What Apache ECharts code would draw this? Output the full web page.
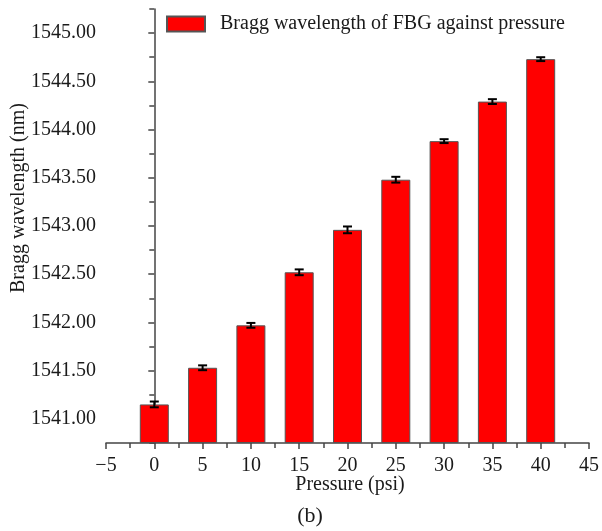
<!DOCTYPE html>
<html>
<head>
<meta charset="utf-8">
<script src="https://cdn.jsdelivr.net/npm/echarts@6/dist/echarts.min.js"></script>
<style>html,body{margin:0;padding:0;background:#fff;}#c{width:602px;height:531px;}</style>
</head>
<body>
<div id="c"></div>
<script>
var pressures = [0, 5, 10, 15, 20, 25, 30, 35, 40];
var wavelengths = [1541.15, 1541.53, 1541.97, 1542.52, 1542.96, 1543.48, 1543.88, 1544.29, 1544.73];
var errors = [0.03, 0.025, 0.025, 0.03, 0.035, 0.03, 0.02, 0.025, 0.02];
var xTicks = [-5, 0, 5, 10, 15, 20, 25, 30, 35, 40, 45];
var xMinorTicks = [-2.5, 2.5, 7.5, 12.5, 17.5, 22.5, 27.5, 32.5, 37.5, 42.5];
var yTicks = [1541.0, 1541.5, 1542.0, 1542.5, 1543.0, 1543.5, 1544.0, 1544.5, 1545.0];
var yMinorTicks = [1540.75, 1541.25, 1541.75, 1542.25, 1542.75, 1543.25, 1543.75, 1544.25, 1544.75, 1545.25];
var seriesName = 'Bragg wavelength of FBG against pressure';
var xTitle = 'Pressure (psi)';
var yTitle = 'Bragg wavelength (nm)';
var panelLabel = '(b)';

var font = '"Liberation Serif", "Times New Roman", serif';
var txt = '#1a1a1a';
var axisColor = '#444';
var chart = echarts.init(document.getElementById('c'));
var barData = pressures.map(function (p, i) { return [p, wavelengths[i]]; });
var errData = pressures.map(function (p, i) { return [p, wavelengths[i] - errors[i], wavelengths[i] + errors[i]]; });

var xMin = -5, xMax = 45, yMin = 1540.75, yMax = 1545.25;

chart.setOption({
  animation: false,
  backgroundColor: '#fff',
  grid: { left: 106, right: 9, top: 9, bottom: 88, containLabel: false },
  legend: {
    data: [{ name: seriesName, icon: 'rect' }],
    left: 161, top: 9, itemWidth: 38, itemHeight: 15, itemGap: 10,
    textStyle: { fontFamily: font, fontSize: 20, color: txt, padding: [0, 0, 0, 10] }
  },
  xAxis: [{
    type: 'value', min: xMin, max: xMax, interval: 5,
    axisLine: { show: true, lineStyle: { color: axisColor, width: 1.5 } },
    axisTick: { show: true, inside: false, length: 6, customValues: xTicks, lineStyle: { color: axisColor, width: 1.5 } },
    axisLabel: { fontFamily: font, fontSize: 20, color: txt, margin: 13, customValues: xTicks,
      formatter: function (v) { return v < 0 ? '\u2212' + Math.abs(v) : String(v); } },
    splitLine: { show: false }
  }, {
    type: 'value', min: xMin, max: xMax, interval: 2.5, position: 'bottom',
    axisLine: { show: false },
    axisTick: { show: true, inside: false, length: 5, customValues: xMinorTicks, lineStyle: { color: axisColor, width: 1.5 } },
    axisLabel: { show: false }, splitLine: { show: false }
  }],
  yAxis: [{
    type: 'value', min: yMin, max: yMax, interval: 0.25, startValue: yMin,
    axisLine: { show: true, lineStyle: { color: axisColor, width: 1.5 } },
    axisTick: { show: true, inside: false, length: 6, customValues: yTicks, lineStyle: { color: axisColor, width: 1.5 } },
    axisLabel: { fontFamily: font, fontSize: 20, color: txt, margin: 10, customValues: yTicks,
      formatter: function (v) { return v.toFixed(2); } },
    splitLine: { show: false }
  }, {
    type: 'value', min: yMin, max: yMax, interval: 0.25, position: 'left',
    axisLine: { show: false },
    axisTick: { show: true, inside: false, length: 5, customValues: yMinorTicks, lineStyle: { color: axisColor, width: 1.5 } },
    axisLabel: { show: false }, splitLine: { show: false }
  }],
  series: [
    {
      name: seriesName, type: 'bar', data: barData, barWidth: 29, clip: true,
      itemStyle: { color: '#ff0000', borderColor: '#555', borderWidth: 1 }
    },
    {
      name: 'err', type: 'custom', data: errData, z: 10, silent: true,
      renderItem: function (params, api) {
        var x = api.value(0);
        var lo = api.coord([x, api.value(1)]);
        var hi = api.coord([x, api.value(2)]);
        var w = 4.5;
        var st = { stroke: '#000', lineWidth: 2 };
        return { type: 'group', children: [
          { type: 'line', shape: { x1: lo[0], y1: lo[1], x2: hi[0], y2: hi[1] }, style: st },
          { type: 'line', shape: { x1: lo[0] - w, y1: lo[1], x2: lo[0] + w, y2: lo[1] }, style: st },
          { type: 'line', shape: { x1: hi[0] - w, y1: hi[1], x2: hi[0] + w, y2: hi[1] }, style: st }
        ] };
      }
    }
  ],
  graphic: [{
    type: 'text', x: 19, y: 198, rotation: Math.PI / 2,
    style: { text: yTitle, font: '20px ' + font, fill: txt, align: 'center', verticalAlign: 'middle' }
  }, {
    type: 'text', x: 350, y: 485,
    style: { text: xTitle, font: '20px ' + font, fill: txt, align: 'center', verticalAlign: 'middle' }
  }, {
    type: 'text', x: 310, y: 516,
    style: { text: panelLabel, font: '22px ' + font, fill: txt, align: 'center', verticalAlign: 'middle' }
  }]
});
</script>
</body>
</html>
